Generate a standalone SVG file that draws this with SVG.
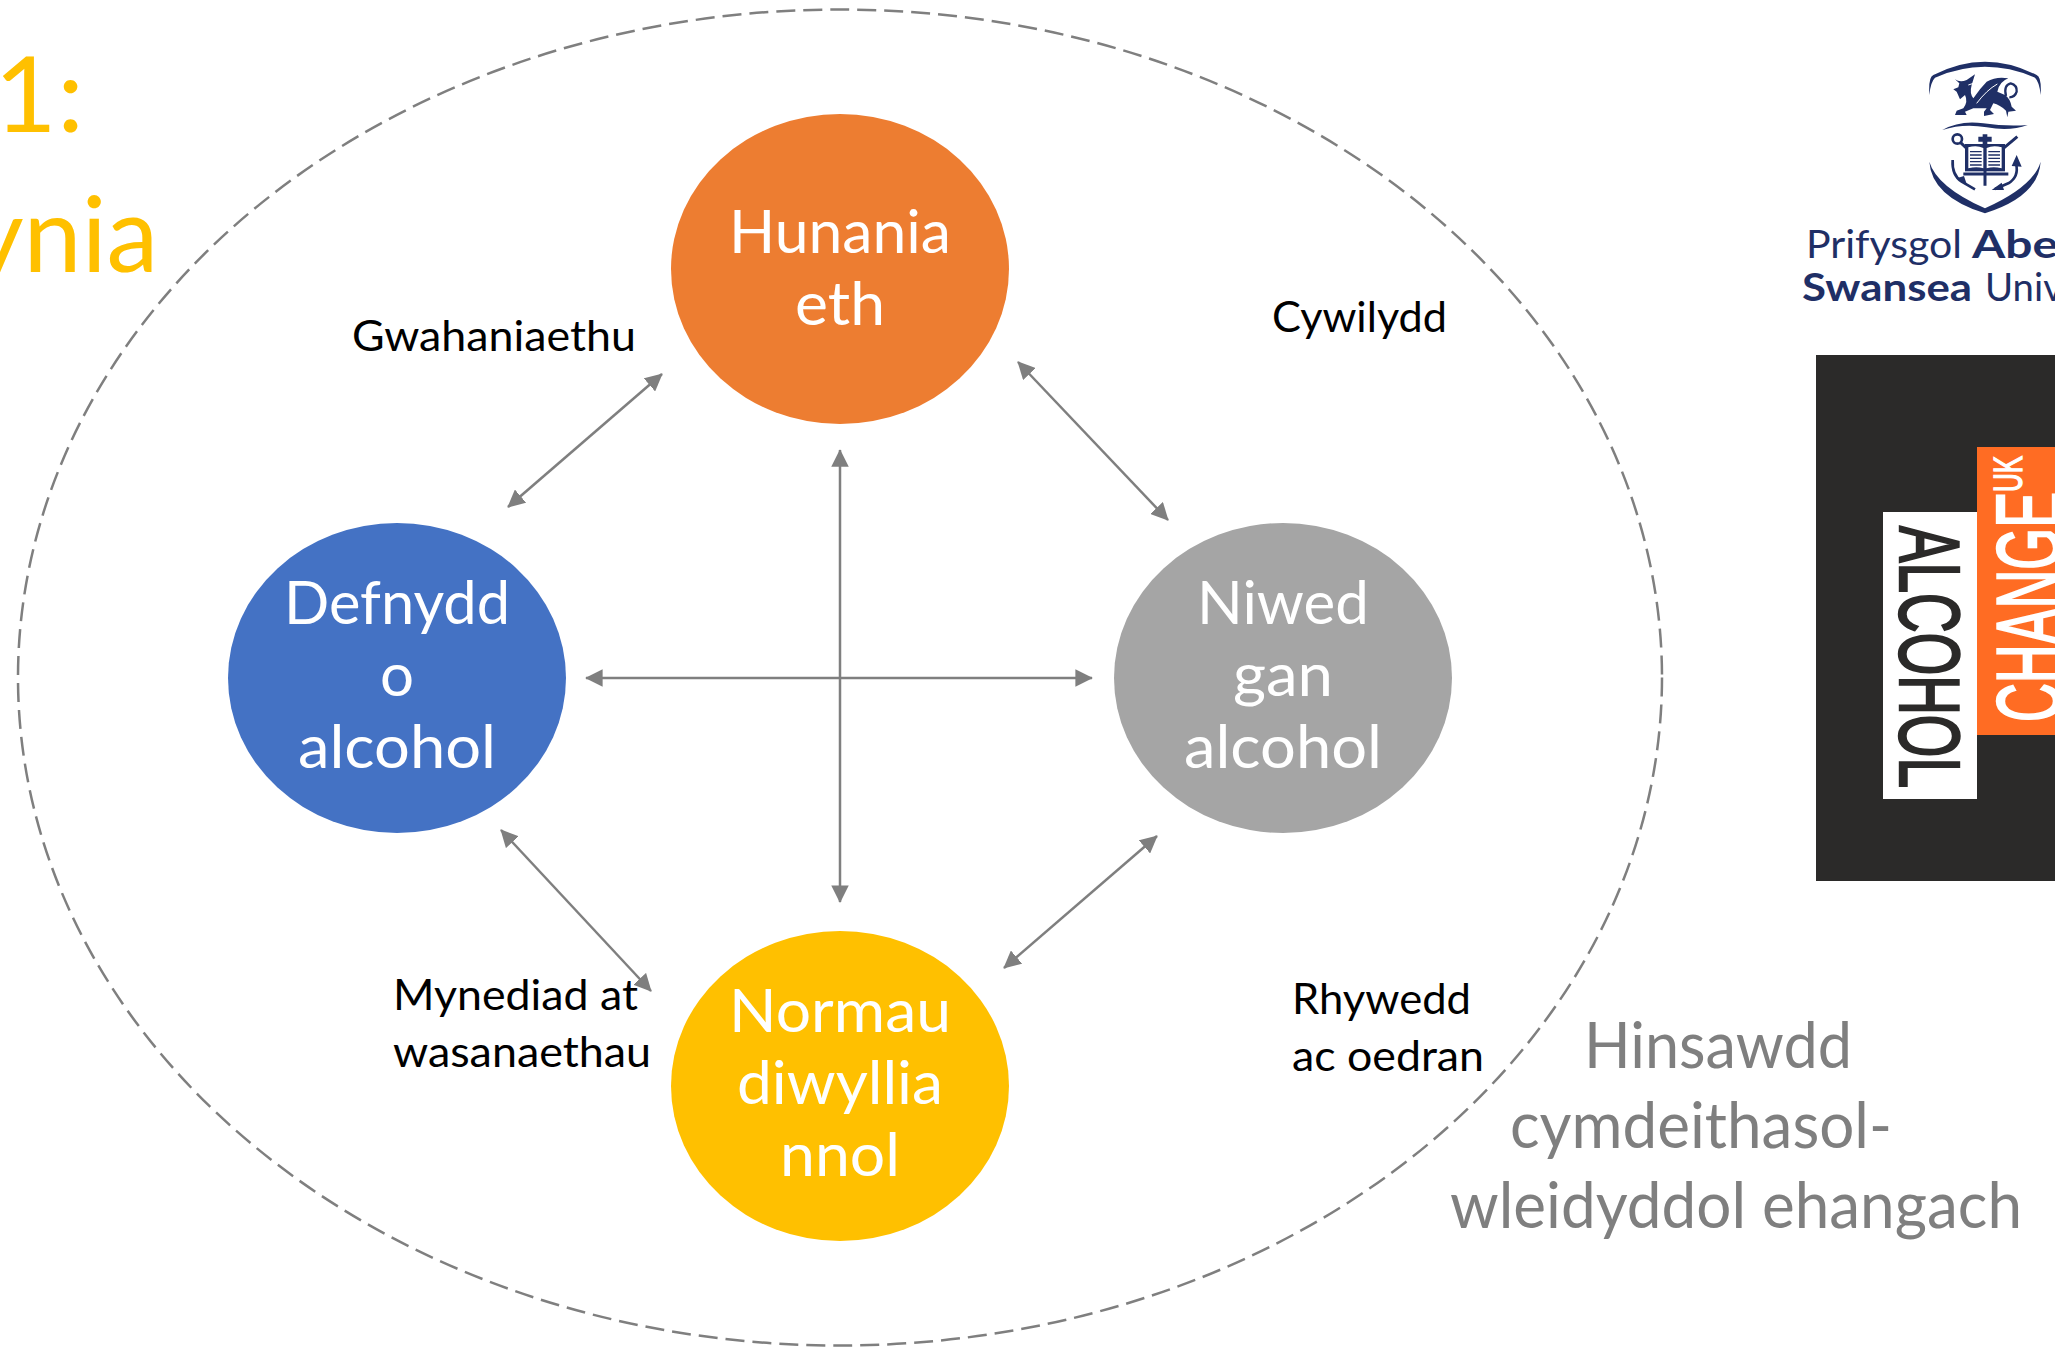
<svg xmlns="http://www.w3.org/2000/svg" width="2055" height="1349" viewBox="0 0 2055 1349">
<style>
text{font-family:"Lato","Open Sans",sans-serif}
.n{font-size:60px;fill:#fff;text-anchor:middle}
.l{font-size:42px;fill:#000}
.c{font-size:64px;fill:#7f7f7f}
.t{font-size:104px;fill:#ffc000}
.a{stroke:#7f7f7f;stroke-width:2.5;fill:none;marker-start:url(#h);marker-end:url(#h)}
.b{fill:#1f2f66}
.bs{fill:none;stroke:#1f2f66}
.s{font-size:39px;fill:#1f2f66}
.lg{font-family:"Liberation Sans",sans-serif}
</style>
<defs><marker id="h" viewBox="0 0 10 10" refX="9.5" refY="5" markerWidth="7" markerHeight="7" orient="auto-start-reverse" markerUnits="strokeWidth"><path d="M0 0L10 5L0 10Z" fill="#7f7f7f"/></marker></defs>
<rect width="2055" height="1349" fill="#fff"/>
<g id="title"><text class="t" x="-6" y="132" textLength="90" lengthAdjust="spacingAndGlyphs">1:</text><text class="t" x="-30" y="272">ynia</text></g>
<g id="climate"><ellipse cx="840" cy="677.5" rx="822" ry="668" fill="none" stroke="#7f7f7f" stroke-width="2.5" stroke-dasharray="19 8"/>
<text class="c" x="1584" y="1068" textLength="268" lengthAdjust="spacingAndGlyphs">Hinsawdd</text><text class="c" x="1510" y="1148" textLength="382" lengthAdjust="spacingAndGlyphs">cymdeithasol-</text><text class="c" x="1450" y="1228" textLength="572" lengthAdjust="spacingAndGlyphs">wleidyddol ehangach</text></g>
<g id="connectors">
<line class="a" x1="508" y1="507" x2="662" y2="374"/>
<line class="a" x1="1018" y1="362" x2="1168" y2="520"/>
<line class="a" x1="501" y1="830" x2="651" y2="991"/>
<line class="a" x1="1157" y1="836" x2="1004" y2="968"/>
<line class="a" x1="840" y1="450" x2="840" y2="902"/>
<line class="a" x1="586" y1="678" x2="1092" y2="678"/>
</g>
<g id="node-hunaniaeth"><ellipse cx="840" cy="269" rx="169" ry="155" fill="#ed7d31"/><text class="n" x="840" y="253" textLength="222" lengthAdjust="spacingAndGlyphs">Hunania</text><text class="n" x="840" y="325" textLength="90" lengthAdjust="spacingAndGlyphs">eth</text></g>
<g id="node-defnydd"><ellipse cx="397" cy="678" rx="169" ry="155" fill="#4472c4"/><text class="n" x="397" y="624" textLength="226" lengthAdjust="spacingAndGlyphs">Defnydd</text><text class="n" x="397" y="696">o</text><text class="n" x="397" y="768" textLength="198" lengthAdjust="spacingAndGlyphs">alcohol</text></g>
<g id="node-niwed"><ellipse cx="1283" cy="678" rx="169" ry="155" fill="#a5a5a5"/><text class="n" x="1283" y="624" textLength="172" lengthAdjust="spacingAndGlyphs">Niwed</text><text class="n" x="1283" y="696" textLength="100" lengthAdjust="spacingAndGlyphs">gan</text><text class="n" x="1283" y="768" textLength="198" lengthAdjust="spacingAndGlyphs">alcohol</text></g>
<g id="node-normau"><ellipse cx="840" cy="1086" rx="169" ry="155" fill="#ffc000"/><text class="n" x="840" y="1032" textLength="222" lengthAdjust="spacingAndGlyphs">Normau</text><text class="n" x="840" y="1104" textLength="206" lengthAdjust="spacingAndGlyphs">diwyllia</text><text class="n" x="840" y="1176" textLength="120" lengthAdjust="spacingAndGlyphs">nnol</text></g>
<g id="labels">
<text class="l" x="352" y="351" textLength="284" lengthAdjust="spacingAndGlyphs">Gwahaniaethu</text>
<text class="l" x="1272" y="332" textLength="175" lengthAdjust="spacingAndGlyphs">Cywilydd</text>
<text class="l" x="393" y="1010" textLength="245" lengthAdjust="spacingAndGlyphs">Mynediad at</text><text class="l" x="393" y="1067" textLength="258" lengthAdjust="spacingAndGlyphs">wasanaethau</text>
<text class="l" x="1292" y="1014" textLength="179" lengthAdjust="spacingAndGlyphs">Rhywedd</text><text class="l" x="1292" y="1071" textLength="192" lengthAdjust="spacingAndGlyphs">ac oedran</text>
</g>
<g id="logo-swansea">
<g transform="translate(1760 40) scale(.33333)">
<path class="b" d="M508 165Q505 110 520 105Q675 25 830 105Q845 110 842 165Q838 125 825 113Q675 48 525 113Q512 125 508 165Z"/>
<path class="b" d="M508 365Q530 440 675 505Q820 440 842 365Q835 470 675 520Q515 470 508 365Z"/>
<path class="b" d="M547 270Q600 240 670 250T803 255Q750 275 680 262T547 270Z"/>
<path class="b" d="M585 118Q600 128 620 120L645 103L635 135Q628 160 640 175Q660 145 680 125Q710 108 745 115Q718 125 712 155L735 165Q750 175 755 200L768 212L745 215L742 232L738 212Q720 195 700 190L690 210L702 222L672 228L672 215L680 205Q655 205 640 205L615 215L620 225L585 225L590 212L610 205Q625 185 615 165L600 178L590 155L580 148L595 142L598 130Z"/>
<path class="bs" stroke-width="7" d="M738 168Q730 135 752 130Q772 135 770 155Q765 172 748 172"/>
<path d="M650 190Q680 150 712 132M640 130L625 135" fill="none" stroke="#fff" stroke-width="3"/>
<circle class="bs" cx="592" cy="297" r="14" stroke-width="8"/>
<path class="bs" stroke-width="9" d="M602 308L625 330M772 290L730 325M675 390V437M610 402H745"/>
<path class="b" d="M655 290H668V283H682V290H695V305H682V320H668V305H655Z"/>
<rect class="b" x="615" y="312" width="120" height="82"/>
<path d="M625 322Q650 314 670 324V385Q650 378 625 385ZM680 324Q700 314 725 322V385Q700 378 680 385Z" fill="#fff"/>
<path class="bs" stroke-width="4" d="M630 335H665M630 345H665M630 355H665M630 365H665M630 375H665M685 335H720M685 345H720M685 355H720M685 365H720M685 375H720"/>
<path class="bs" stroke-width="8" d="M578 360Q575 405 605 425L645 448M768 370Q778 410 745 430L705 447"/>
<path class="b" d="M770 345L785 380L755 378ZM695 450L725 428L732 450ZM590 415L612 408L620 432Z"/>
</g>
<text class="s" x="1806" y="258" textLength="156" lengthAdjust="spacingAndGlyphs">Prifysgol</text><text class="s" x="1972" y="258" font-weight="700" textLength="86" lengthAdjust="spacingAndGlyphs">Abe</text>
<text class="s" x="1802" y="301" font-weight="700" textLength="170" lengthAdjust="spacingAndGlyphs">Swansea</text><text class="s" x="1985" y="301" textLength="78" lengthAdjust="spacingAndGlyphs">Univ</text>
</g>
<g id="logo-alcohol-change">
<rect x="1816" y="355" width="239" height="526" fill="#2b2a29"/>
<rect x="1977" y="447" width="78" height="288" fill="#ff6c23"/>
<rect x="1883" y="512" width="94" height="287" fill="#fff"/>
<text class="lg" transform="translate(1900 526) rotate(90)" font-size="86" fill="#2b2a29" stroke="#2b2a29" stroke-width="2.4" textLength="262" lengthAdjust="spacingAndGlyphs">ALCOHOL</text>
<text class="lg" transform="translate(2060 722) rotate(-90)" font-size="91" fill="#fff" stroke="#fff" stroke-width="2.4" textLength="230" lengthAdjust="spacingAndGlyphs">CHANGE</text>
<text class="lg" transform="translate(2022 492) rotate(-90)" font-size="40" fill="#fff" stroke="#fff" stroke-width="1.4" textLength="36" lengthAdjust="spacingAndGlyphs">UK</text>
</g>
</svg>
